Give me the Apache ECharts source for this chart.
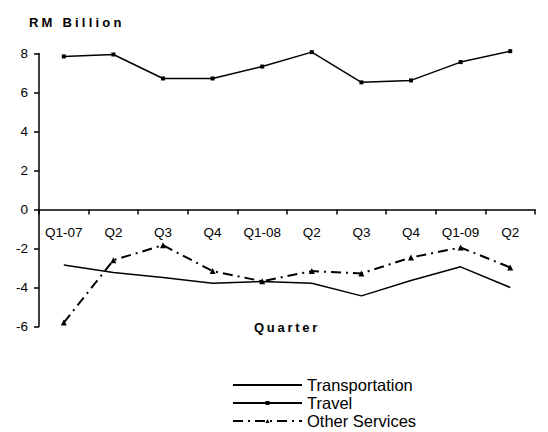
<!DOCTYPE html>
<html><head><meta charset="utf-8">
<script src="https://cdn.jsdelivr.net/npm/echarts@6/dist/echarts.min.js"></script>
<style>html,body{margin:0;padding:0;background:#fff}#c{width:548px;height:432px}</style>
</head><body><div id="c"></div>
<script>
const categories = ['Q1-07','Q2','Q3','Q4','Q1-08','Q2','Q3','Q4','Q1-09','Q2'];
const transportation = [-2.85,-3.23,-3.49,-3.78,-3.69,-3.78,-4.43,-3.64,-2.94,-4.0];
const travel = [7.85,7.95,6.72,6.72,7.33,8.07,6.52,6.62,7.56,8.12];
const otherServices = [-5.8,-2.6,-1.83,-3.16,-3.68,-3.16,-3.28,-2.46,-1.95,-2.97];
const yTicks = {min:-6, max:8, interval:2};

const font = 'Liberation Sans, Arial, sans-serif';
const gridTop = 53.5, gridBottom = 105.5, H = 432;
const plotH = H - gridTop - gridBottom;
const zeroFromBottom = plotH * (0 - yTicks.min) / (yTicks.max - yTicks.min);

const chart = echarts.init(document.getElementById('c'), null, {renderer:'svg'});
chart.setOption({
  animation:false,
  backgroundColor:'#fff',
  title:{text:'RM Billion', left:24, top:11, textStyle:{fontFamily:font, fontSize:13, fontWeight:'bold', color:'#000'}},
  grid:{left:39, right:13, top:gridTop, bottom:gridBottom},
  legend:{
    orient:'vertical', left:232, top:376, height:80, padding:0,
    itemWidth:69, itemHeight:5, itemGap:0,
    textStyle:{fontFamily:font, fontSize:16.5, lineHeight:18, color:'#000'},
    data:['Transportation','Travel','Other Services']
  },
  xAxis:{
    type:'category', data:categories, boundaryGap:true,
    position:'bottom', offset:-zeroFromBottom,
    axisLine:{onZero:false, lineStyle:{color:'#000', width:1.5}},
    axisTick:{show:true, inside:false, length:5, lineStyle:{color:'#000', width:1.5}},
    axisLabel:{color:'#000', fontFamily:font, fontSize:13.5, margin:16},
    name:'Quarter', nameLocation:'middle', nameGap:111,
    nameTextStyle:{fontFamily:font, fontSize:13, fontWeight:'bold', color:'#000'},
    splitLine:{show:false}
  },
  yAxis:{
    type:'value', min:yTicks.min, max:yTicks.max, interval:yTicks.interval,
    axisLine:{show:true, onZero:false, lineStyle:{color:'#000', width:1.5}},
    axisTick:{show:true, length:5, lineStyle:{color:'#000', width:1.5}},
    axisLabel:{color:'#000', fontFamily:font, fontSize:13.5, margin:11},
    splitLine:{show:false}
  },
  series:[
    {name:'Transportation', type:'line', data:transportation, symbol:'none', showSymbol:false, clip:false,
     lineStyle:{color:'#000', width:1.5}, itemStyle:{color:'rgba(0,0,0,0)', borderWidth:0}},
    {name:'Travel', type:'line', data:travel, symbol:'rect', symbolSize:4, clip:false,
     lineStyle:{color:'#000', width:1.5}, itemStyle:{color:'#000'}},
    {name:'Other Services', type:'line', data:otherServices, symbol:'triangle', symbolSize:6, clip:false,
     lineStyle:{color:'#000', width:2, type:[10,5,2,5]}, itemStyle:{color:'#000'}}
  ]
});

function spaceLetters(){
  const spacing = {'Quarter':'2.7px', 'RM Billion':'3.2px'};
  document.querySelectorAll('#c svg text').forEach(function(t){
    const s = spacing[t.textContent];
    if (s) t.style.letterSpacing = s;
  });
}
spaceLetters();
chart.on('finished', spaceLetters);
</script></body></html>
